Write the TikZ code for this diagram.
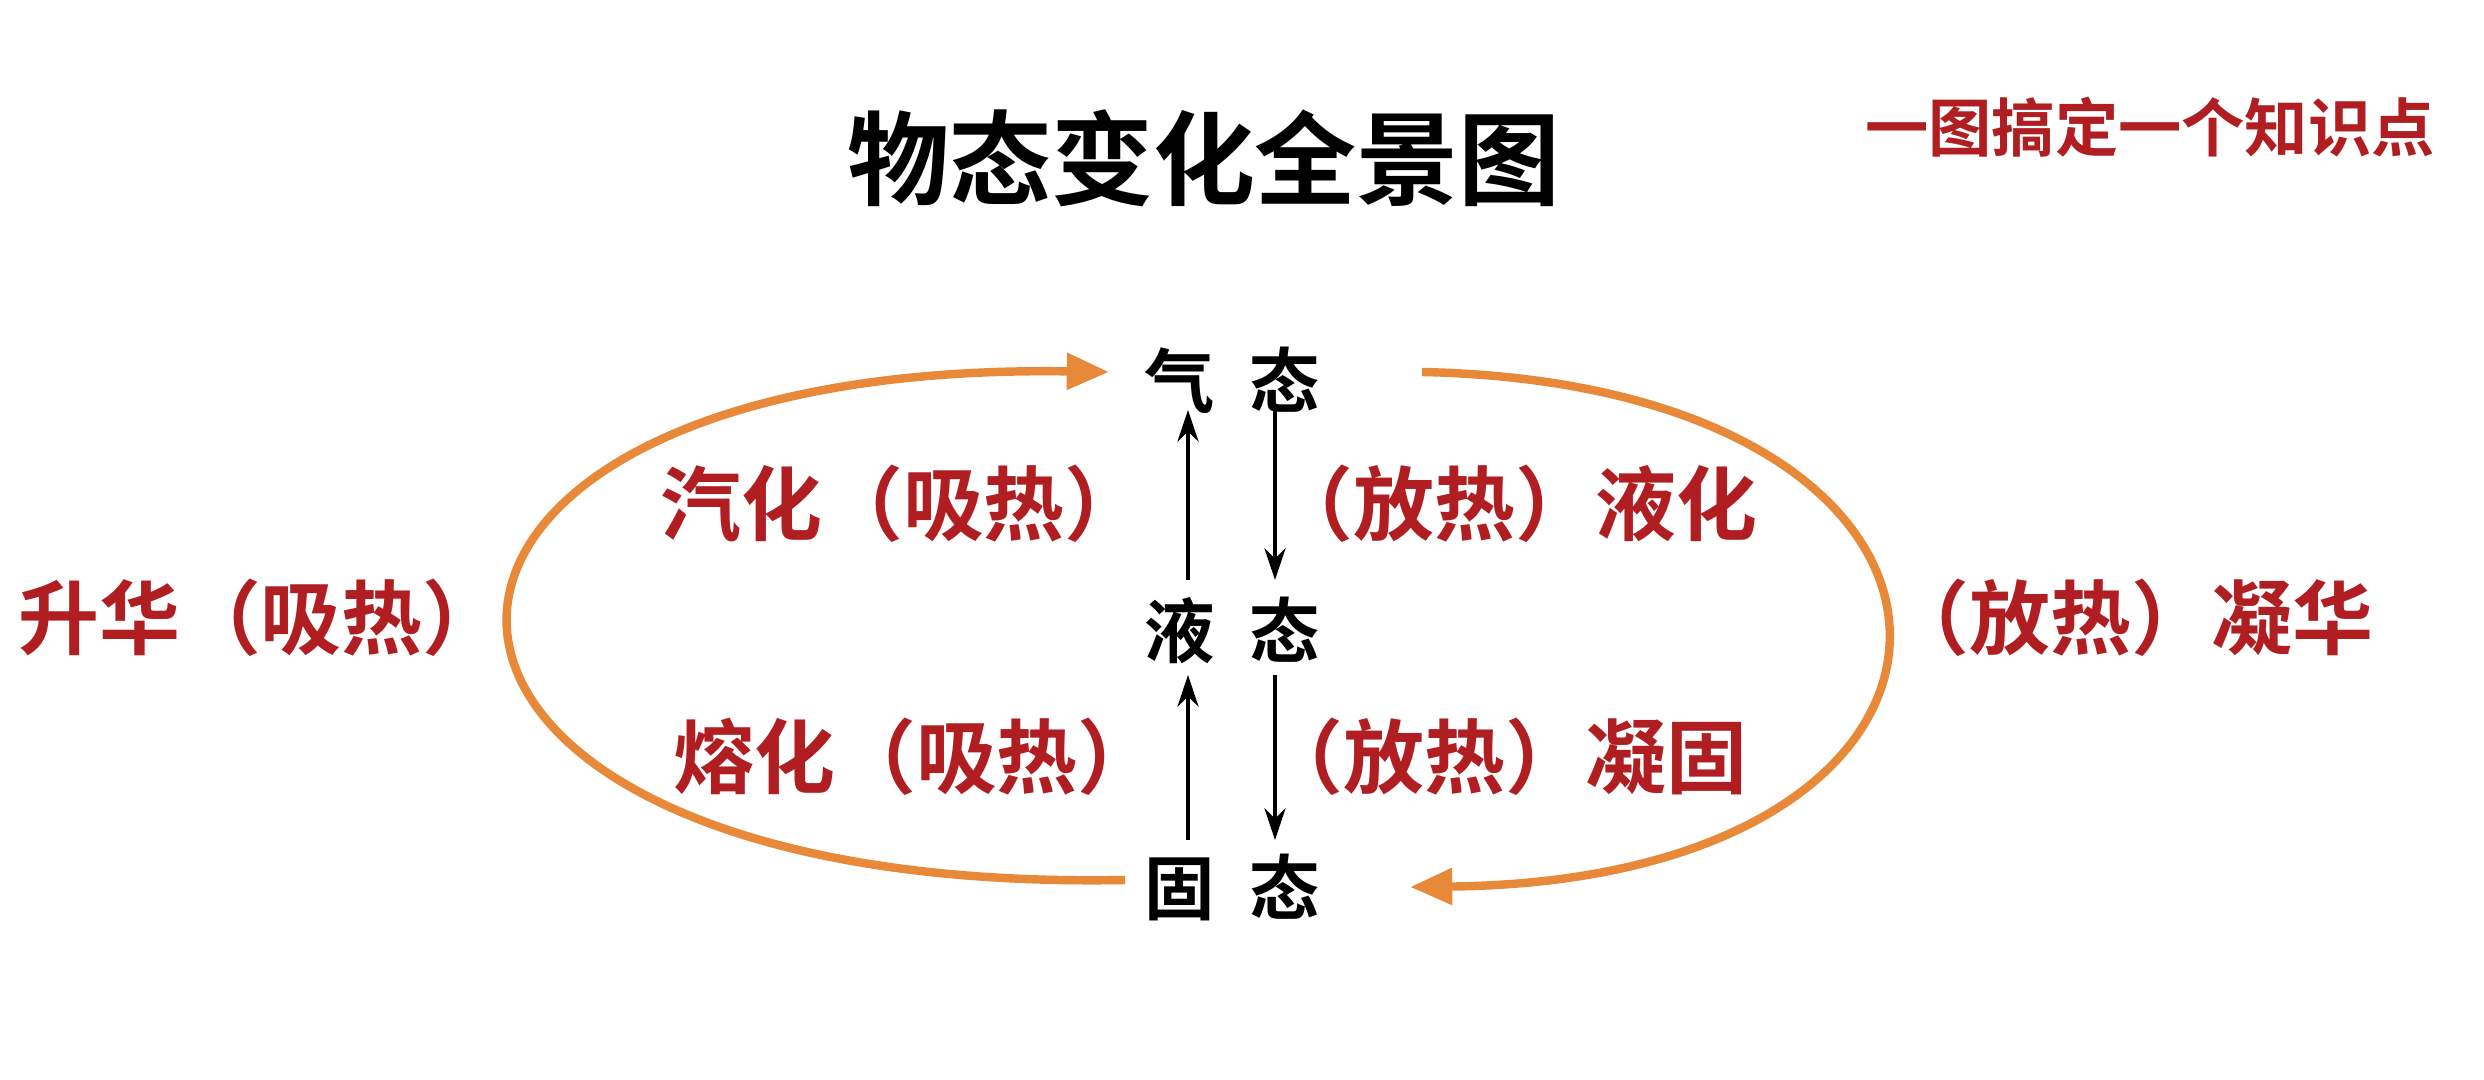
\documentclass[tikz,border=0pt]{standalone}
\usepackage{fontspec}
\newfontfamily\cjk{Noto Sans CJK SC}
\newfontfamily\cjkb{Noto Sans CJK SC Bold}
\definecolor{dred}{HTML}{B01E22}
\definecolor{orng}{HTML}{E8893A}
\usetikzlibrary{arrows.meta}
\begin{document}
\begin{tikzpicture}[x=0.01cm,y=-0.01cm,
  state/.style={font=\cjkb\fontsize{20}{20}\selectfont,text=black},
  lab/.style={font=\cjkb\fontsize{23}{23}\selectfont,text=dred},
  arc/.style={draw=orng,line width=2.4pt,-{Triangle[length=12pt,width=10pt]}},
  thin/.style={draw=black,line width=1.1pt,-{Stealth[length=9pt,width=6pt]}}]
\useasboundingbox[fill=white] (0,0) rectangle (2484,1080);
\node[font=\cjkb\fontsize{29}{29}\selectfont] (title) at (1204,158) {物态变化全景图};
\node[font=\cjkb\fontsize{18}{18}\selectfont,text=dred] (tag) at (2150,127) {一图搞定一个知识点};
\node[state] (gas) at (1232,380) {气\hspace{0.5em}态};
\node[state] (liq) at (1232,630) {液\hspace{0.5em}态};
\node[state] (sol) at (1232,887) {固\hspace{0.5em}态};
\coordinate (g1) at (1188,410); \coordinate (g2) at (1275,410);
\coordinate (l1) at (1188,580); \coordinate (l2) at (1275,580);
\coordinate (l3) at (1188,675); \coordinate (l4) at (1275,675);
\coordinate (s1) at (1188,840); \coordinate (s2) at (1275,840);
\draw[thin] (l1) -- (g1);
\draw[thin] (g2) -- (l2);
\draw[thin] (s1) -- (l3);
\draw[thin] (l4) -- (s2);
\node[lab] (a) at (903,504) {汽化（吸热）};
\node[lab] (b) at (1515,504) {（放热）液化};
\node[lab] (c) at (916,757) {熔化（吸热）};
\node[lab] (d) at (1505,757) {（放热）凝固};
\node[lab] (e) at (261,618) {升华（吸热）};
\node[lab] (f) at (2131,618) {（放热）凝华};
\coordinate (ls) at (1125,880); \coordinate (le) at (1109,372);
\coordinate (rs) at (1422,372); \coordinate (re) at (1410,887);
\draw[arc] (ls) .. controls (310,895) and (310,360) .. (le);
\draw[arc] (rs) .. controls (2041,385) and (2041,880) .. (re);
\end{tikzpicture}
\end{document}
